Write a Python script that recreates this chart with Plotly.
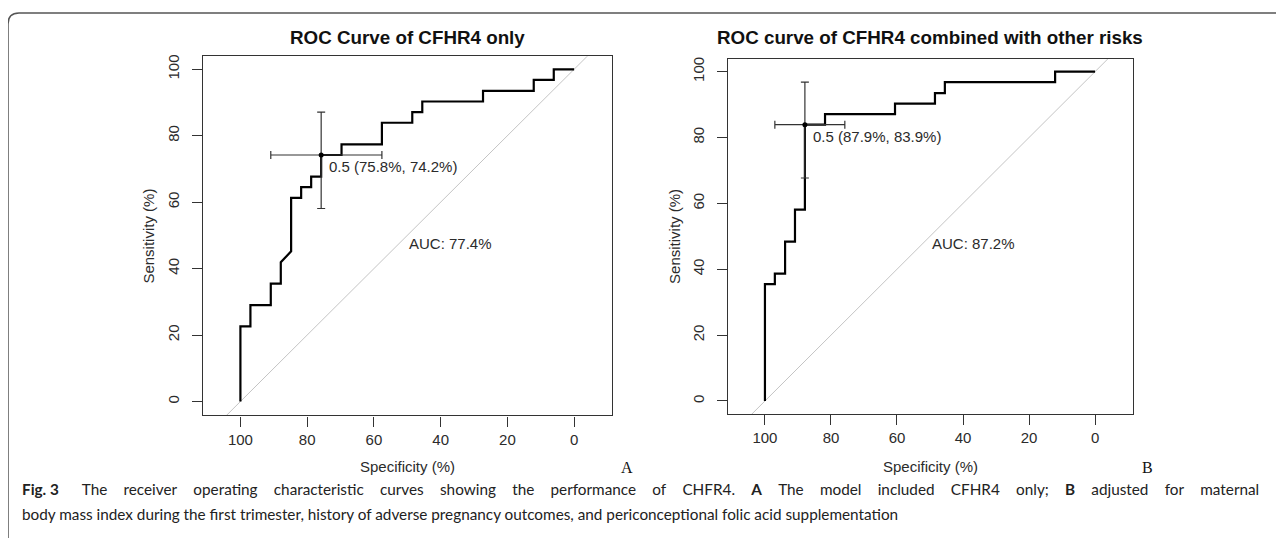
import plotly.graph_objects as go

# ---------------- data ----------------
# Panel A: ROC curve of CFHR4 only (vertices of the step curve)
A_SPEC = [100, 100, 97.0, 97.0, 90.9, 90.9, 87.9, 87.9, 84.8, 84.8, 81.8, 81.8, 78.8, 78.8,
          75.8, 75.8, 69.7, 69.7, 57.6, 57.6, 48.5, 48.5, 45.5, 45.5, 27.3, 27.3, 12.1, 12.1,
          6.1, 6.1, 0]
A_SENS = [0, 22.6, 22.6, 29.0, 29.0, 35.5, 35.5, 41.9, 45.2, 61.3, 61.3, 64.5, 64.5, 67.7,
          67.7, 74.2, 74.2, 77.4, 77.4, 83.9, 83.9, 87.1, 87.1, 90.3, 90.3, 93.5, 93.5, 96.8,
          96.8, 100, 100]
A_THR = 0.5
A_THR_SPEC, A_THR_SENS = 75.8, 74.2
A_SPEC_CI = [57.6, 90.9]
A_SENS_CI = [58.1, 87.1]
A_AUC = 77.4

# Panel B: ROC curve of CFHR4 combined with other risks
B_SPEC = [100, 100, 97.0, 97.0, 93.9, 93.9, 90.9, 90.9, 87.9, 87.9, 81.8, 81.8, 60.6, 60.6,
          48.5, 48.5, 45.5, 45.5, 12.1, 12.1, 0]
B_SENS = [0, 35.5, 35.5, 38.7, 38.7, 48.4, 48.4, 58.1, 58.1, 83.9, 83.9, 87.1, 87.1, 90.3,
          90.3, 93.5, 93.5, 96.8, 96.8, 100, 100]
B_THR = 0.5
B_THR_SPEC, B_THR_SENS = 87.9, 83.9
B_SPEC_CI = [75.8, 97.0]
B_SENS_CI = [67.7, 96.8]
B_AUC = 87.2

TICKS = [0, 20, 40, 60, 80, 100]
TITLES = ["ROC Curve of CFHR4 only", "ROC curve of CFHR4 combined with other risks"]
PANEL_LETTERS = ["A", "B"]
CAPTION_1_WORDS = ["<b>Fig. 3</b>", "The", "receiver", "operating", "characteristic", "curves",
                   "showing", "the", "performance", "of", "CHFR4.", "<b>A</b>", "The", "model",
                   "included", "CFHR4", "only;", "<b>B</b>", "adjusted", "for", "maternal"]
CAPTION_2 = ("body mass index during the first trimester, history of adverse pregnancy outcomes, "
             "and periconceptional folic acid supplementation")

# ---------------- layout constants ----------------
# the page body has an 8px margin, so the figure starts at (8, 8) in the window
OX, OY = 8, 8
W, H = 1284 - OX, 538 - OY
FONT = "Liberation Sans, Arial, sans-serif"
CAP_FONT = "Lato, Open Sans, sans-serif"
TXT = "#2b2b2b"
AX = "#333333"


def px(xp):
    return (xp - OX) / W


def py(yp):
    return 1 - (yp - OY) / H


panels = [
    dict(spec=A_SPEC, sens=A_SENS, thr=A_THR, ts=A_THR_SPEC, tn=A_THR_SENS,
         sci=A_SPEC_CI, nci=A_SENS_CI, auc=A_AUC,
         dom_x=[px(202.7), px(611.5)], dom_y=[py(415.0), py(54.5)],
         xr=[111.3, -11.2], yr=[-4.2, 103.9]),
    dict(spec=B_SPEC, sens=B_SENS, thr=B_THR, ts=B_THR_SPEC, tn=B_THR_SENS,
         sci=B_SPEC_CI, nci=B_SENS_CI, auc=B_AUC,
         dom_x=[px(728.3), px(1132.7)], dom_y=[py(413.7), py(57.3)],
         xr=[111.1, -11.4], yr=[-4.0, 103.8]),
]

fig = go.Figure()
annotations = []

for i, p in enumerate(panels):
    xa = "x" if i == 0 else "x2"
    ya = "y" if i == 0 else "y2"
    # diagonal reference line (sens = 100 - spec), spanning the axis box
    d_spec = [p["xr"][0] + 5, p["xr"][1] - 5]
    d_sens = [100 - s for s in d_spec]
    fig.add_trace(go.Scatter(x=d_spec, y=d_sens, mode="lines",
                             line=dict(color="#c4c4c4", width=1),
                             xaxis=xa, yaxis=ya, hoverinfo="skip", showlegend=False))
    # ROC curve
    fig.add_trace(go.Scatter(x=p["spec"], y=p["sens"], mode="lines",
                             line=dict(color="black", width=2.2),
                             xaxis=xa, yaxis=ya, showlegend=False))
    # threshold point with CI bars
    fig.add_trace(go.Scatter(
        x=[p["ts"]], y=[p["tn"]], mode="markers",
        marker=dict(color="black", size=5),
        error_x=dict(type="data", symmetric=False,
                     array=[p["sci"][1] - p["ts"]], arrayminus=[p["ts"] - p["sci"][0]],
                     color=AX, thickness=1.2, width=4),
        error_y=dict(type="data", symmetric=False,
                     array=[p["nci"][1] - p["tn"]], arrayminus=[p["tn"] - p["nci"][0]],
                     color=AX, thickness=1.2, width=4),
        xaxis=xa, yaxis=ya, showlegend=False))
    # threshold label
    annotations.append(dict(
        x=p["ts"], y=p["tn"], xref=xa, yref=ya,
        text=f"{p['thr']} ({p['ts']}%, {p['tn']}%)", showarrow=False,
        xanchor="left", yanchor="middle", xshift=6, yshift=-12,
        font=dict(family=FONT, size=15, color=TXT)))
    # AUC label
    annotations.append(dict(
        x=50, y=47.7, xref=xa, yref=ya, text=f"AUC: {p['auc']}%", showarrow=False,
        xanchor="left", yanchor="middle",
        font=dict(family=FONT, size=15, color=TXT)))
    # title
    cx = (p["dom_x"][0] + p["dom_x"][1]) / 2
    annotations.append(dict(
        x=cx, y=py(36), xref="paper", yref="paper", text=f"<b>{TITLES[i]}</b>",
        showarrow=False, xanchor="center", yanchor="middle",
        font=dict(family=FONT, size=18.8, color="#111111")))
    # axis titles
    annotations.append(dict(
        x=cx, y=py(466), xref="paper", yref="paper", text="Specificity (%)",
        showarrow=False, xanchor="center", yanchor="middle",
        font=dict(family=FONT, size=15, color=TXT)))
    cy = (p["dom_y"][0] + p["dom_y"][1]) / 2
    annotations.append(dict(
        x=p["dom_x"][0] - 54 / W, y=cy, xref="paper", yref="paper", text="Sensitivity (%)",
        showarrow=False, xanchor="center", yanchor="middle", textangle=-90,
        font=dict(family=FONT, size=15, color=TXT)))
    # panel letter
    annotations.append(dict(
        x=p["dom_x"][1] + 15 / W, y=py(467), xref="paper", yref="paper",
        text=PANEL_LETTERS[i], showarrow=False, xanchor="center", yanchor="middle",
        font=dict(family="Liberation Serif, Times New Roman, serif", size=16, color="#111111")))

# caption (first line justified with wider word gaps)
GAP = "\u2003\u2005\u200a"
caption_1 = CAPTION_1_WORDS[0] + "\u2003\u2003" + GAP.join(CAPTION_1_WORDS[1:])
annotations.append(dict(x=px(20), y=py(489), xref="paper", yref="paper", text=caption_1,
                        showarrow=False, xanchor="left", yanchor="middle",
                        font=dict(family=CAP_FONT, size=15.3, color="#222222")))
annotations.append(dict(x=px(20), y=py(514), xref="paper", yref="paper", text=CAPTION_2,
                        showarrow=False, xanchor="left", yanchor="middle",
                        font=dict(family=CAP_FONT, size=15.3, color="#222222")))

axis_common = dict(showgrid=False, zeroline=False, showline=True, linecolor=AX, linewidth=1.3,
                   mirror=True, ticks="outside", ticklen=10, tickwidth=1.2, tickcolor=AX,
                   tickvals=TICKS, ticktext=[str(t) for t in TICKS],
                   tickfont=dict(family=FONT, size=15, color=TXT))

fig.update_layout(
    width=W, height=H, margin=dict(l=0, r=0, t=0, b=0),
    paper_bgcolor="white", plot_bgcolor="white",
    xaxis=dict(axis_common, domain=panels[0]["dom_x"], range=panels[0]["xr"], anchor="y",
               ticklabelstandoff=0),
    yaxis=dict(axis_common, domain=panels[0]["dom_y"], range=panels[0]["yr"], anchor="x",
               tickangle=-90, ticklabelstandoff=7),
    xaxis2=dict(axis_common, domain=panels[1]["dom_x"], range=panels[1]["xr"], anchor="y2",
                ticklabelstandoff=0),
    yaxis2=dict(axis_common, domain=panels[1]["dom_y"], range=panels[1]["yr"], anchor="x2",
                tickangle=-90, ticklabelstandoff=7),
    annotations=annotations,
    shapes=[dict(type="path", xref="paper", yref="paper",
                 path=(f"M {px(8)} {py(560)} L {px(8)} {py(22)} Q {px(8)} {py(11)} "
                       f"{px(19)} {py(11)} L {px(1300)} {py(11)}"),
                 line=dict(color="#555555", width=1.5))],
)

fig.write_html("out.html")
